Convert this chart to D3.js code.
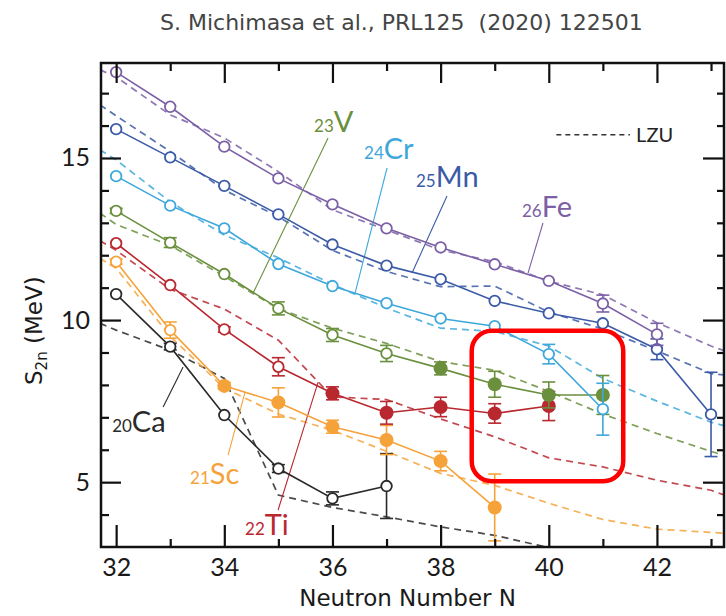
<!DOCTYPE html>
<html>
<head>
<meta charset="utf-8">
<script src="https://cdn.jsdelivr.net/npm/d3@7"></script>
<style>
  body { margin: 0; background: #fff; }
  svg { display: block; }
</style>
</head>
<body>
<svg id="drawing_region"></svg>
<script>
// ---- measured S2n (MeV), open = previous data, filled = this work ----
const caN = [32, 33, 34, 35, 36, 37];
const caS = [10.80, 9.18, 7.07, 5.42, 4.50, 4.88];
const caErr = [0, 0.1, 0, 0.12, 0.2, 1.0];

const scN = [32, 33, 34, 35, 36, 37, 38, 39];
const scS = [11.80, 9.69, 7.97, 7.46, 6.71, 6.30, 5.65, 4.22];
const scErr = [0.08, 0.25, 0.1, 0.45, 0.2, 0.45, 0.3, 1.03];

const tiN = [32, 33, 34, 35, 36, 37, 38, 39, 40];
const tiS = [12.37, 11.08, 9.71, 8.56, 7.74, 7.14, 7.32, 7.12, 7.35];
const tiErr = [0, 0, 0.08, 0.28, 0.2, 0.35, 0.3, 0.3, 0.45];

const vN = [32, 33, 34, 35, 36, 37, 38, 39, 40, 41];
const vS = [13.37, 12.39, 11.42, 10.36, 9.54, 8.97, 8.51, 8.02, 7.69, 7.69];
const vErr = [0.08, 0.15, 0, 0.2, 0.2, 0.25, 0.2, 0.4, 0.4, 0.6];

const crN = [32, 33, 34, 35, 36, 37, 38, 39, 40, 41];
const crS = [14.44, 13.53, 12.83, 11.73, 11.05, 10.52, 10.05, 9.81, 8.95, 7.25];
const crErr = [0, 0, 0, 0, 0, 0, 0, 0, 0.3, 0.8];

const mnN = [32, 33, 34, 35, 36, 37, 38, 39, 40, 41, 42, 43];
const mnS = [15.89, 15.02, 14.14, 13.26, 12.33, 11.68, 11.26, 10.59, 10.21, 9.90, 9.10, 7.09];
const mnErr = [0, 0, 0, 0, 0, 0, 0, 0, 0, 0, 0.32, 1.3];

const feN = [32, 33, 34, 35, 36, 37, 38, 39, 40, 41, 42];
const feS = [17.65, 16.58, 15.35, 14.37, 13.57, 12.83, 12.24, 11.72, 11.21, 10.51, 9.56];
const feErr = [0, 0, 0, 0, 0, 0, 0, 0, 0, 0.26, 0.34];

// ---- LZU predictions (dashed) ----
const lzuN = [31.7, 32, 33, 34, 35, 36, 37, 38, 39, 40, 41, 42, 43, 43.3];
const caLzu = [9.9, 9.69, 9.07, 8.2, 4.6, 4.22, 3.93, 3.62, 3.36, 2.98];
const scLzu = [11.9, 11.6, 9.5, 7.9, 7.1, 6.6, 5.95, 5.27, 4.9, 4.35, 3.85, 3.55, 3.45, 3.42];
const tiLzu = [12.45, 12.15, 10.95, 10.34, 9.38, 7.63, 7.55, 6.95, 6.4, 5.75, 5.47, 5.06, 4.75, 4.57];
const vLzu = [13.3, 12.95, 12.3, 11.35, 10.35, 9.75, 9.28, 8.72, 8.45, 7.8, 7.1, 6.5, 5.95, 5.8];
const crLzu = [15.25, 14.94, 13.65, 12.62, 11.92, 11.1, 10.37, 9.75, 9.65, 9.2, 8.2, 7.5, 6.85, 6.72];
const mnLzu = [16.64, 16.3, 15.2, 14.01, 13.19, 12.15, 11.5, 11.03, 11.05, 10.25, 9.72, 9.05, 8.35, 8.3];
const feLzu = [17.72, 17.5, 16.33, 15.62, 14.58, 13.4, 12.78, 12.16, 11.8, 11.2, 10.78, 9.92, 9.2, 9.02];

const xMajor = [32, 34, 36, 38, 40, 42];
const xMinor = [33, 35, 37, 39, 41, 43];
const yMajor = [5, 10, 15];
const yMinor = [4, 6, 7, 8, 9, 11, 12, 13, 14, 16, 17];

const series = [
  { sym: "Ca", z: "20", color: "#2a2a2a", n: caN, s: caS, err: caErr, firstNew: 99, lzu: caLzu,
    label: [31.926, 6.543], lead: [[32.869, 7.315], [33.238, 8.549]] },
  { sym: "Sc", z: "21", color: "#f6a23a", n: scN, s: scS, err: scErr, firstNew: 34, lzu: scLzu,
    label: [33.368, 4.938], lead: [[34.070, 5.833], [34.384, 7.778]] },
  { sym: "Ti", z: "22", color: "#b9272f", n: tiN, s: tiS, err: tiErr, firstNew: 36, lzu: tiLzu,
    label: [34.384, 3.364], lead: [[34.994, 4.136], [35.734, 8.086]] },
  { sym: "V", z: "23", color: "#6a8f3d", n: vN, s: vS, err: vErr, firstNew: 38, lzu: vLzu,
    label: [35.660, 15.802], lead: [[35.919, 15.617], [34.532, 10.833]] },
  { sym: "Cr", z: "24", color: "#3ea8dc", n: crN, s: crS, err: crErr, firstNew: 99, lzu: crLzu,
    label: [36.584, 14.969], lead: [[37.009, 14.691], [36.418, 10.833]] },
  { sym: "Mn", z: "25", color: "#3b5ba7", n: mnN, s: mnS, err: mnErr, firstNew: 99, lzu: mnLzu,
    label: [37.545, 14.105], lead: [[38.118, 13.827], [37.471, 11.451]] },
  { sym: "Fe", z: "26", color: "#7b60a6", n: feN, s: feS, err: feErr, firstNew: 99, lzu: feLzu,
    label: [39.505, 13.179], lead: [[39.893, 12.994], [39.616, 11.451]] },
];

const config = {
  width: 726,
  height: 616,
  margin: { top: 63, right: 2, bottom: 69, left: 101 },
};

const svg = d3.select("#drawing_region")
  .attr("width", config.width)
  .attr("height", config.height);

const innerW = config.width - config.margin.left - config.margin.right;
const innerH = config.height - config.margin.top - config.margin.bottom;

const chart = svg.append("g")
  .attr("transform", `translate(${config.margin.left}, ${config.margin.top})`);

const xscale = d3.scaleLinear().domain([31.72, 43.24]).range([0, innerW]);
const yscale = d3.scaleLinear().domain([3.0, 17.93]).range([innerH, 0]);

svg.append("defs").append("clipPath").attr("id", "clip")
  .append("rect").attr("width", innerW).attr("height", innerH);

const plot = chart.append("g").attr("clip-path", "url(#clip)");

const line = d3.line().x((d) => xscale(d[0])).y((d) => yscale(d[1]));

// dashed LZU
series.forEach((sr) => {
  plot.append("path")
    .datum(sr.lzu.map((v, i) => [lzuN[i], v]))
    .attr("d", line)
    .attr("fill", "none")
    .attr("stroke", sr.color)
    .attr("stroke-opacity", 0.85)
    .attr("stroke-width", 1.7)
    .attr("stroke-dasharray", "7,5");
});

// leader lines for labels
series.forEach((sr) => {
  plot.append("path")
    .datum(sr.lead)
    .attr("d", line)
    .attr("fill", "none")
    .attr("stroke", sr.color)
    .attr("stroke-width", 1.1);
});

// solid experimental lines
series.forEach((sr) => {
  plot.append("path")
    .datum(sr.n.map((n, i) => [n, sr.s[i]]))
    .attr("d", line)
    .attr("fill", "none")
    .attr("stroke", sr.color)
    .attr("stroke-width", 1.6);
});

// error bars and markers
const cap = 6.5;
series.forEach((sr) => {
  const pts = sr.n.map((n, i) => ({ n: n, s: sr.s[i], e: sr.err[i], isNew: n >= sr.firstNew }));
  const g = plot.append("g").attr("stroke", sr.color).attr("stroke-width", 1.6);
  const eb = pts.filter((d) => d.e > 0);
  g.selectAll(".ev").data(eb).join("line")
    .attr("x1", (d) => xscale(d.n)).attr("x2", (d) => xscale(d.n))
    .attr("y1", (d) => yscale(d.s - d.e)).attr("y2", (d) => yscale(d.s + d.e));
  g.selectAll(".et").data(eb).join("line").attr("class", "et")
    .attr("x1", (d) => xscale(d.n) - cap).attr("x2", (d) => xscale(d.n) + cap)
    .attr("y1", (d) => yscale(d.s + d.e)).attr("y2", (d) => yscale(d.s + d.e));
  g.selectAll(".eb").data(eb).join("line").attr("class", "eb")
    .attr("x1", (d) => xscale(d.n) - cap).attr("x2", (d) => xscale(d.n) + cap)
    .attr("y1", (d) => yscale(d.s - d.e)).attr("y2", (d) => yscale(d.s - d.e));
  g.selectAll("circle").data(pts).join("circle")
    .attr("cx", (d) => xscale(d.n))
    .attr("cy", (d) => yscale(d.s))
    .attr("r", (d) => (d.isNew ? 7 : 5.3))
    .attr("fill", (d) => (d.isNew ? sr.color : "#fff"))
    .attr("stroke-width", (d) => (d.isNew ? 0 : 1.8));
});

// element labels
const labelFont = "Lato, 'Open Sans', sans-serif";
series.forEach((sr) => {
  const t = chart.append("text")
    .attr("x", xscale(sr.label[0]))
    .attr("y", yscale(sr.label[1]))
    .attr("fill", sr.color)
    .attr("font-family", labelFont);
  t.append("tspan").attr("font-size", "17px").text(sr.z);
  t.append("tspan").attr("font-size", "29px").text(sr.sym);
});

// red highlight box
chart.append("rect")
  .attr("x", xscale(38.575))
  .attr("y", yscale(9.67))
  .attr("width", xscale(41.377) - xscale(38.575))
  .attr("height", yscale(5.03) - yscale(9.67))
  .attr("rx", 20)
  .attr("fill", "none")
  .attr("stroke", "#ff0000")
  .attr("stroke-width", 4.5);

// LZU legend
chart.append("line")
  .attr("x1", xscale(40.14)).attr("x2", xscale(41.5))
  .attr("y1", yscale(15.72)).attr("y2", yscale(15.72))
  .attr("stroke", "#333").attr("stroke-width", 1.5).attr("stroke-dasharray", "5,4");
chart.append("text")
  .attr("x", xscale(41.615)).attr("y", yscale(15.5))
  .attr("font-family", labelFont).attr("font-size", "20px").attr("fill", "#222")
  .text("LZU");

// axes: ticks inside on all four sides
const tickFont = "Lato, 'Open Sans', sans-serif";
const titleFont = "'DejaVu Sans', sans-serif";
function styleAxis(g) {
  g.select(".domain").remove();
  g.selectAll(".tick line").attr("stroke", "#111").attr("stroke-width", 2.2);
  g.selectAll(".tick text").attr("font-family", tickFont).attr("font-size", "25px").attr("fill", "#1a1a1a");
}
chart.append("g").attr("transform", `translate(0, ${innerH})`)
  .call(d3.axisBottom(xscale).tickValues(xMajor).tickSize(-22).tickPadding(11).tickFormat(d3.format("d")))
  .call(styleAxis);
chart.append("g").attr("transform", `translate(0, ${innerH})`)
  .call(d3.axisBottom(xscale).tickValues(xMinor).tickSize(-8).tickFormat(""))
  .call(styleAxis);
chart.append("g")
  .call(d3.axisTop(xscale).tickValues(xMajor).tickSize(-20).tickFormat(""))
  .call(styleAxis);
chart.append("g")
  .call(d3.axisTop(xscale).tickValues(xMinor).tickSize(-8).tickFormat(""))
  .call(styleAxis);
chart.append("g")
  .call(d3.axisLeft(yscale).tickValues(yMajor).tickSize(-20).tickPadding(11).tickFormat(d3.format("d")))
  .call(styleAxis);
chart.append("g")
  .call(d3.axisLeft(yscale).tickValues(yMinor).tickSize(-8).tickFormat(""))
  .call(styleAxis);
chart.append("g").attr("transform", `translate(${innerW}, 0)`)
  .call(d3.axisRight(yscale).tickValues(yMajor).tickSize(-21).tickFormat(""))
  .call(styleAxis);
chart.append("g").attr("transform", `translate(${innerW}, 0)`)
  .call(d3.axisRight(yscale).tickValues(yMinor).tickSize(-7).tickFormat(""))
  .call(styleAxis);

chart.append("rect")
  .attr("width", innerW).attr("height", innerH)
  .attr("fill", "none").attr("stroke", "#111").attr("stroke-width", 2.5);

// axis titles
chart.append("text")
  .attr("x", xscale(37.39))
  .attr("y", innerH + 59)
  .attr("text-anchor", "middle")
  .attr("font-family", titleFont).attr("font-size", "23px").attr("fill", "#1a1a1a")
  .text("Neutron Number N");

const yl = svg.append("text")
  .attr("transform", "translate(42, 385) rotate(-90)")
  .attr("font-family", titleFont).attr("font-size", "23px").attr("fill", "#1a1a1a");
yl.append("tspan").text("S");
yl.append("tspan").attr("font-size", "15px").attr("dy", 5).text("2n");
yl.append("tspan").attr("dy", -5).text(" (MeV)");

// citation
svg.append("text")
  .attr("x", 160).attr("y", 30)
  .style("white-space", "pre")
  .attr("font-family", "'DejaVu Sans', sans-serif").attr("font-size", "22px").attr("fill", "#444")
  .text("S. Michimasa et al., PRL125  (2020) 122501");
</script>
</body>
</html>
